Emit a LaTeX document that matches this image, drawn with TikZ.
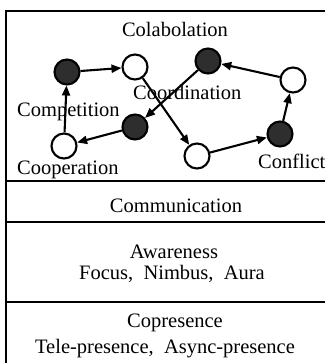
\documentclass[tikz,border=0pt]{standalone}
\usepackage{fontspec}
\setmainfont{Liberation Serif}
\usetikzlibrary{arrows.meta}
\begin{document}
\begin{tikzpicture}[x=1pt,y=-1pt,
  state/.style={circle, draw=black, line width=2.1pt, minimum size=25pt, inner sep=0pt},
  busy/.style={state, fill=black!82},
  idle/.style={state, fill=white},
  link/.style={line width=2.1pt, -{Triangle[length=10pt,width=8pt]}},
  lbl/.style={font=\fontsize{20.5}{24}\selectfont, inner sep=0pt},
  frame/.style={line width=2pt}]
\useasboundingbox (0,0) rectangle (325,363);

% layered frame
\draw[frame] (325,11) -- (6,11) -- (6,363);
\draw[frame] (6,181) -- (325,181);
\draw[frame] (6,222) -- (325,222);
\draw[frame] (6,302) -- (325,302);

% interaction states
\node[busy] (comp)  at (67,72)   {};
\node[idle] (colab) at (135,67)  {};
\node[busy] (coord) at (208,61)  {};
\node[idle] (turn)  at (293,80)  {};
\node[busy] (confl) at (280,134) {};
\node[idle] (low)   at (197,156) {};
\node[busy] (mid)   at (135,127) {};
\node[idle] (coop)  at (64,146)  {};

% labels of the graph
\node[lbl, anchor=base] (tcolab) at (175,37) {Colabolation};
\node[lbl, anchor=base west] (tcoord) at (133,100) {Coordination};
\node[lbl, anchor=base west] (tcomp) at (17,117) {Competition};
\node[lbl, anchor=base west] (tcoop) at (17,175) {Cooperation};
\node[lbl, anchor=base west] (tconfl) at (258,168) {Conflict};

% transitions
\draw[link] (coop) -- (comp);
\draw[link] (comp) -- (colab);
\draw[link] (colab) -- (low);
\draw[link] (low) -- (confl);
\draw[link] (confl) -- (turn);
\draw[link] (turn) -- (coord);
\draw[link] (coord) -- (mid);
\draw[link] (mid) -- (coop);

% lower layers
\node[lbl, anchor=base] (tcomm) at (176,212) {Communication};
\node[lbl, anchor=base] (taware) at (174,258) {Awareness};
\node[lbl, anchor=base] (tfocus) at (172,279) {Focus,\ \ Nimbus,\ \ Aura};
\node[lbl, anchor=base] (tcopres) at (175,327) {Copresence};
\node[lbl, anchor=base] (ttele) at (165,353) {Tele-presence,\ \ Async-presence};
\end{tikzpicture}
\end{document}
